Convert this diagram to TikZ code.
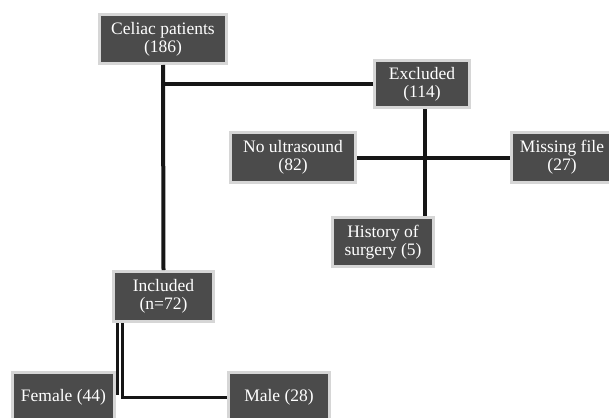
\documentclass[tikz,border=0pt]{standalone}
\usepackage{fontspec}
\setmainfont{Liberation Serif}
\definecolor{boxfill}{HTML}{4B4B4B}
\definecolor{boxedge}{HTML}{D6D6D6}
\definecolor{linecol}{HTML}{161616}
\begin{document}
\begin{tikzpicture}[x=1pt,y=-1pt,
  fbox/.style={draw=boxedge,fill=boxfill,line width=3pt,text=white,
    align=center,inner sep=0pt,font=\fontsize{17.5}{18}\selectfont},
  conn/.style={draw=linecol,line width=4pt}]
\useasboundingbox (0,0) rectangle (609,417);
\node[fbox,minimum width=127pt,minimum height=49pt] (celiac) at (163,39) {Celiac patients\\(186)};
\node[fbox,minimum width=95pt,minimum height=47pt] (excl) at (422,84) {Excluded\\(114)};
\node[fbox,minimum width=125pt,minimum height=50pt] (nous) at (293,157.5) {No ultrasound\\(82)};
\node[fbox,minimum width=101pt,minimum height=50pt] (miss) at (562,157.5) {Missing file\\(27)};
\node[fbox,minimum width=101pt,minimum height=49pt] (hist) at (383,242) {History of\\surgery (5)};
\node[fbox,minimum width=100pt,minimum height=50pt] (incl) at (163.5,296.5) {Included\\(n=72)};
\node[fbox,minimum width=102pt,minimum height=50pt] (fem) at (63.5,397.5) {Female (44)};
\node[fbox,minimum width=101pt,minimum height=50pt] (male) at (279,397.5) {Male (28)};
\coordinate (j) at (425,157.5);
\coordinate (fa) at (117,395);
\coordinate (ma) at (122,397.5);
\draw[conn] (celiac.south) -- (incl.north);
\draw[conn] (excl.west) -- (excl.west -| celiac.south);
\draw[conn] (j |- excl.south) -- (j |- hist.north);
\draw[conn] (nous.east) -- (miss.west);
\draw[conn,line width=3pt] (fa |- incl.south) -- (fa);
\draw[conn,line width=3pt] (ma |- incl.south) -- (ma) -- (male.west);
\end{tikzpicture}
\end{document}
